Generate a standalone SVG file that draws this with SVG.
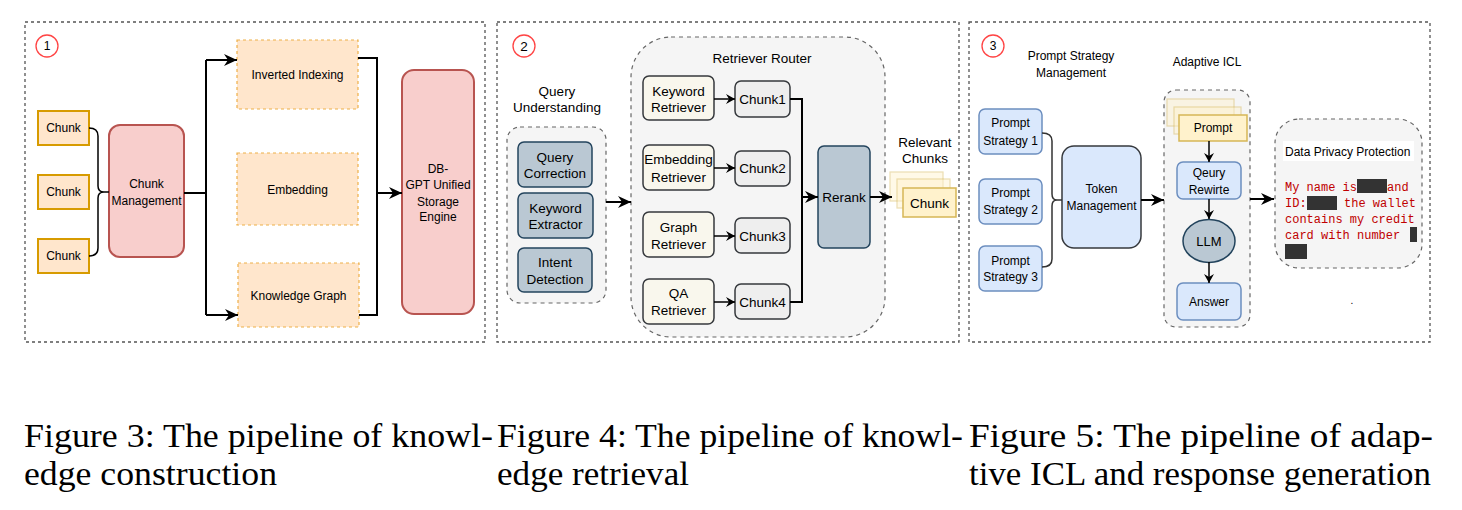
<svg xmlns="http://www.w3.org/2000/svg" width="1462" height="510" viewBox="0 0 1462 510">
<defs>
<style>
text{font-family:"Liberation Sans",Arial,sans-serif;font-size:12px;fill:#000;text-anchor:middle}
.p2{font-size:13.5px}
.mono{font-family:"Liberation Mono","Courier New",monospace;font-size:12px;fill:#c00000;text-anchor:start}
.cap{font-family:"Liberation Serif","Times New Roman",serif;font-size:34px;text-anchor:start}
.panel{fill:#fff;stroke:#555;stroke-width:1.3;stroke-dasharray:3 3}
.num{fill:#fff;stroke:#f44;stroke-width:1.3}
.ochunk{fill:#ffe6cc;stroke:#d79b00;stroke-width:2}
.red{fill:#f8cecc;stroke:#b85450;stroke-width:2}
.odash{fill:#ffe6cc;stroke:#eeb048;stroke-width:1.2;stroke-dasharray:3 3}
.cont{fill:#f5f5f5;stroke:#666;stroke-width:1.2;stroke-dasharray:4 4}
.slate{fill:#bac8d3;stroke:#23445d;stroke-width:1.5}
.ret{fill:#f9f7ed;stroke:#36393d;stroke-width:1.5}
.gch{fill:#eeeeee;stroke:#36393d;stroke-width:1.5}
.yel{fill:#fff2cc;stroke:#d6b656;stroke-width:1.5}
.yelb{fill:#fff2cc;stroke:#d6b656;stroke-width:1.2;opacity:0.45}
.blue{fill:#dae8fc;stroke:#6c8ebf;stroke-width:1.5}
.blued{fill:#dae8fc;stroke:#36393d;stroke-width:1.5}
.ln{fill:none;stroke:#000;stroke-width:2}
.lt{fill:none;stroke:#000;stroke-width:1.5}
.blk{fill:#333}
</style>
<marker id="ab" markerUnits="userSpaceOnUse" markerWidth="14" markerHeight="12" refX="13" refY="6" orient="auto">
<path d="M0,0 L13,6 L0,12 L4,6 z" fill="#000"/>
</marker>
<marker id="as" markerUnits="userSpaceOnUse" markerWidth="10" markerHeight="10" refX="9" refY="5" orient="auto">
<path d="M0,0 L9,5 L0,10 L3,5 z" fill="#000"/>
</marker>
</defs>
<rect width="1462" height="510" fill="#fff"/>

<!-- Panel 1 -->
<g id="panel1">
<rect class="panel" x="25" y="22" width="460" height="320"/>
<circle class="num" cx="47" cy="46" r="11"/>
<text x="47" y="50">1</text>
</g>
<g id="chunk-a"><rect class="ochunk" x="38" y="111" width="51" height="34"/><text x="63.5" y="132">Chunk</text></g>
<g id="chunk-b"><rect class="ochunk" x="38" y="175" width="51" height="34"/><text x="63.5" y="196">Chunk</text></g>
<g id="chunk-c"><rect class="ochunk" x="38" y="239" width="51" height="34"/><text x="63.5" y="260">Chunk</text></g>
<g id="chunk-mgmt"><rect class="red" x="109" y="125" width="75" height="132" rx="11"/><text x="146.5" y="188">Chunk</text><text x="146.5" y="205">Management</text></g>
<g id="inverted-indexing"><rect class="odash" x="237" y="40" width="121" height="69"/><text x="297.5" y="79">Inverted Indexing</text></g>
<g id="embedding"><rect class="odash" x="237" y="153" width="121" height="72"/><text x="297.5" y="194">Embedding</text></g>
<g id="knowledge-graph"><rect class="odash" x="238" y="263" width="121" height="64"/><text x="298.5" y="300">Knowledge Graph</text></g>
<g id="db-gpt"><rect class="red" x="402" y="70" width="72" height="244" rx="12"/><text x="438" y="173">DB-</text><text x="438" y="189">GPT Unified</text><text x="438" y="206">Storage</text><text x="438" y="221">Engine</text></g>

<!-- Panel 2 -->
<g id="panel2">
<rect class="panel" x="497" y="22" width="462" height="320"/>
<circle class="num" cx="524" cy="46" r="11"/>
<text x="524" y="50.5" class="p2">2</text>
</g>
<g id="retriever-router"><rect class="cont" x="631" y="37" width="254" height="300" rx="40"/><text class="p2" x="762" y="63">Retriever Router</text></g>
<g id="query-understanding"><text class="p2" x="557" y="96">Query</text><text class="p2" x="557" y="112">Understanding</text><rect class="cont" x="507" y="127" width="99" height="176" rx="13"/></g>
<g id="query-correction"><rect class="slate" x="518" y="142" width="74" height="45" rx="6"/><text class="p2" x="555" y="161.5">Query</text><text class="p2" x="555" y="177.5">Correction</text></g>
<g id="keyword-extractor"><rect class="slate" x="518" y="193" width="75" height="45" rx="6"/><text class="p2" x="555.5" y="212.5">Keyword</text><text class="p2" x="555.5" y="229">Extractor</text></g>
<g id="intent-detection"><rect class="slate" x="518" y="248" width="74" height="44" rx="6"/><text class="p2" x="555" y="266.5">Intent</text><text class="p2" x="555" y="283.5">Detection</text></g>
<g id="keyword-retriever"><rect class="ret" x="643" y="76" width="71" height="44" rx="6"/><text class="p2" x="678.5" y="95.5">Keyword</text><text class="p2" x="678.5" y="111.5">Retriever</text></g>
<g id="embedding-retriever"><rect class="ret" x="643" y="145" width="71" height="45" rx="6"/><text class="p2" x="678.5" y="163.5">Embedding</text><text class="p2" x="678.5" y="181.5">Retriever</text></g>
<g id="graph-retriever"><rect class="ret" x="643" y="212" width="71" height="45" rx="6"/><text class="p2" x="678.5" y="231.5">Graph</text><text class="p2" x="678.5" y="248.5">Retriever</text></g>
<g id="qa-retriever"><rect class="ret" x="643" y="279" width="71" height="45" rx="6"/><text class="p2" x="678.5" y="297.5">QA</text><text class="p2" x="678.5" y="314.5">Retriever</text></g>
<g id="chunk1"><rect class="gch" x="735" y="81" width="55" height="36" rx="6"/><text class="p2" x="762.5" y="103.5">Chunk1</text></g>
<g id="chunk2"><rect class="gch" x="735" y="151" width="55" height="35" rx="6"/><text class="p2" x="762.5" y="172.5">Chunk2</text></g>
<g id="chunk3"><rect class="gch" x="735" y="218" width="55" height="35" rx="6"/><text class="p2" x="762.5" y="240.5">Chunk3</text></g>
<g id="chunk4"><rect class="gch" x="735" y="284" width="55" height="35" rx="6"/><text class="p2" x="762.5" y="306.5">Chunk4</text></g>
<g id="rerank"><rect class="slate" x="818" y="146" width="52" height="102" rx="6"/><text class="p2" x="844" y="201.5">Rerank</text></g>
<g id="relevant-chunks"><text class="p2" x="925" y="146.5">Relevant</text><text class="p2" x="925" y="162.5">Chunks</text>
<rect class="yelb" x="890" y="172" width="53" height="29"/>
<rect class="yelb" x="897" y="179" width="53" height="29"/>
<rect class="yel" x="903" y="188" width="53" height="29"/>
<text class="p2" x="929.5" y="207.5">Chunk</text></g>

<!-- Panel 3 -->
<g id="panel3">
<rect class="panel" x="969" y="22" width="461" height="320"/>
<circle class="num" cx="993" cy="46" r="11"/>
<text x="993" y="50">3</text>
<text x="1071" y="60">Prompt Strategy</text>
<text x="1071" y="77">Management</text>
<text x="1207" y="66">Adaptive ICL</text>
</g>
<g id="prompt-strategy-1"><rect class="blue" x="979" y="109" width="63" height="45" rx="6"/><text x="1010.5" y="127">Prompt</text><text x="1010.5" y="145">Strategy 1</text></g>
<g id="prompt-strategy-2"><rect class="blue" x="979" y="179" width="63" height="45" rx="6"/><text x="1010.5" y="197">Prompt</text><text x="1010.5" y="214">Strategy 2</text></g>
<g id="prompt-strategy-3"><rect class="blue" x="979" y="246" width="63" height="45" rx="6"/><text x="1010.5" y="265">Prompt</text><text x="1010.5" y="281">Strategy 3</text></g>
<g id="token-management"><rect class="blued" x="1062" y="146" width="79" height="102" rx="12"/><text x="1101.5" y="193">Token</text><text x="1101.5" y="210">Management</text></g>
<g id="adaptive-icl"><rect class="cont" x="1164" y="90" width="86" height="237" rx="12"/></g>
<g id="prompt"><rect class="yelb" x="1167" y="99" width="67" height="27"/><rect class="yelb" x="1174" y="107" width="67" height="27"/><rect class="yel" x="1179" y="115" width="68" height="26"/><text x="1213" y="132">Prompt</text></g>
<g id="query-rewrite"><rect class="blue" x="1177" y="162" width="64" height="37" rx="6"/><text x="1209" y="177">Qeury</text><text x="1209" y="194">Rewirte</text></g>
<g id="llm"><ellipse class="slate" cx="1209" cy="241" rx="26" ry="21.5"/><text x="1209" y="246" style="font-size:13px">LLM</text></g>
<g id="answer"><rect class="blue" x="1177" y="283" width="64" height="37" rx="6"/><text x="1209" y="306">Answer</text></g>
<g id="data-privacy">
<rect class="cont" x="1275" y="119" width="147" height="149" rx="24"/>
<rect x="1283" y="141" width="131" height="20" fill="#fff"/>
<text x="1285" y="156" style="text-anchor:start">Data Privacy Protection</text>
<text class="mono" x="1285" y="191">My name is</text>
<rect class="blk" x="1357" y="179" width="30" height="14"/>
<text class="mono" x="1387" y="191">and</text>
<text class="mono" x="1285" y="207">ID:</text>
<rect class="blk" x="1307" y="196" width="30" height="14"/>
<text class="mono" x="1344" y="207">the wallet</text>
<text class="mono" x="1285" y="223">contains my credit</text>
<text class="mono" x="1285" y="239">card with number</text>
<rect class="blk" x="1410" y="227" width="7" height="15"/>
<rect class="blk" x="1285" y="244" width="22" height="15"/>
</g>
<text x="1352" y="304" style="font-size:10px">.</text>

<!-- Connectors -->
<g id="connectors">
<path class="lt" d="M89,128 Q98,128 98,136 L98,186 Q98,192 104,192 L109,192 M89,256 Q98,256 98,248 L98,198 Q98,192 104,192"/>
<path class="ln" d="M184,193 L206,193 M206,60 L206,315"/>
<path class="ln" d="M206,60 L237,60" marker-end="url(#ab)"/>
<path class="ln" d="M206,315 L238,315" marker-end="url(#ab)"/>
<path class="ln" d="M358,58 L377,58 L377,315 L359,315"/>
<path class="ln" d="M377,193 L402,193" marker-end="url(#ab)"/>

<path class="ln" d="M606,202 L631,202" marker-end="url(#ab)"/>
<path class="lt" d="M714,99 L735,99" marker-end="url(#as)"/>
<path class="lt" d="M714,168 L735,168" marker-end="url(#as)"/>
<path class="lt" d="M714,236 L735,236" marker-end="url(#as)"/>
<path class="lt" d="M714,302 L735,302" marker-end="url(#as)"/>
<path class="ln" d="M790,99 L802,99 L802,302 L790,302"/>
<path class="ln" d="M802,197 L818,197" marker-end="url(#ab)"/>
<path class="ln" d="M870,197 L892,197" marker-end="url(#ab)"/>

<path class="lt" style="stroke:#333" d="M1042,133 Q1052,133 1052,141 L1052,194 Q1052,200 1057,200 L1062,200 M1042,267 Q1052,267 1052,259 L1052,206 Q1052,200 1057,200"/>
<path class="ln" d="M1141,200 L1164,200" marker-end="url(#ab)"/>
<path class="lt" d="M1209,141 L1209,162" marker-end="url(#as)"/>
<path class="lt" d="M1209,199 L1209,219" marker-end="url(#as)"/>
<path class="lt" d="M1209,262 L1209,283" marker-end="url(#as)"/>
<path class="ln" d="M1250,199 L1274,199" marker-end="url(#ab)"/>
</g>

<!-- Captions -->
<g id="captions">
<text class="cap" x="24" y="447" textLength="469" lengthAdjust="spacingAndGlyphs">Figure 3: The pipeline of knowl-</text>
<text class="cap" x="24" y="485" textLength="253" lengthAdjust="spacingAndGlyphs">edge construction</text>
<text class="cap" x="497" y="447" textLength="466" lengthAdjust="spacingAndGlyphs">Figure 4: The pipeline of knowl-</text>
<text class="cap" x="497" y="485" textLength="192" lengthAdjust="spacingAndGlyphs">edge retrieval</text>
<text class="cap" x="969" y="447" textLength="464" lengthAdjust="spacingAndGlyphs">Figure 5:  The pipeline of adap-</text>
<text class="cap" x="969" y="485" textLength="462" lengthAdjust="spacingAndGlyphs">tive ICL and response generation</text>
</g>
</svg>
